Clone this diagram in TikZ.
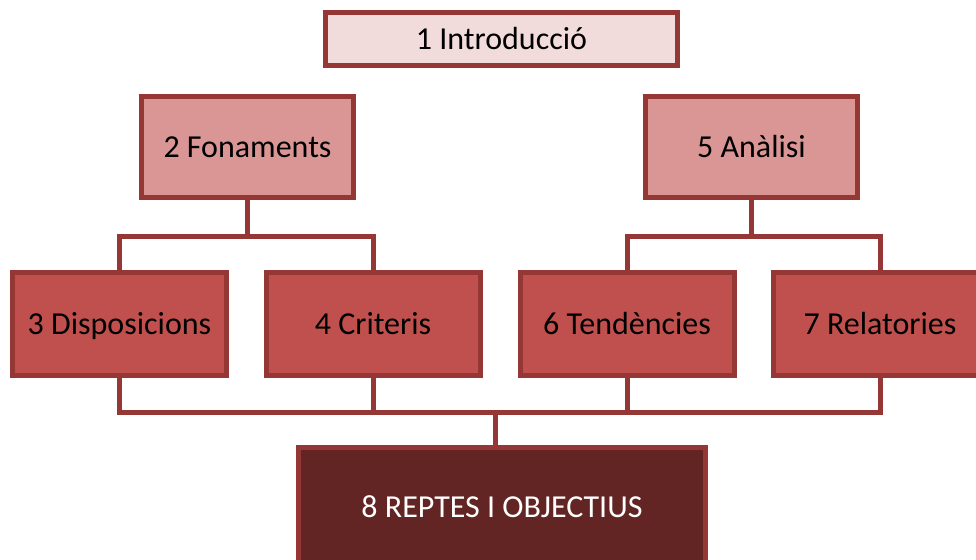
\documentclass[tikz,border=0pt]{standalone}
\usepackage{fontspec}
\setmainfont{Carlito}
\usetikzlibrary{backgrounds}
\definecolor{edgered}{HTML}{953735}
\definecolor{fillone}{HTML}{F2DCDB}
\definecolor{filltwo}{HTML}{D99694}
\definecolor{fillthree}{HTML}{C0504D}
\definecolor{fillfour}{HTML}{632523}
\tikzset{
  boxbase/.style={draw=edgered, line width=5pt, rectangle, inner sep=0pt, align=center,
    text height=20.6pt, text depth=0pt, font=\fontsize{32}{36}\selectfont},
  lvlone/.style={boxbase, fill=fillone, minimum width=352pt, minimum height=53pt},
  lvltwo/.style={boxbase, fill=filltwo, minimum width=212pt, minimum height=101pt},
  lvlthree/.style={boxbase, fill=fillthree, minimum width=214pt, minimum height=103pt},
  lvlfour/.style={boxbase, fill=fillfour, text=white, minimum width=407pt, minimum height=120pt},
  link/.style={draw=edgered, line width=5pt}
}
\begin{document}
\begin{tikzpicture}[x=1pt,y=-1pt]
\useasboundingbox (0,0) rectangle (976,559);
\clip (0,0) rectangle (976,559);
\node[lvlone] (n1) at (501.5,39) {1 Introducció};
\node[lvltwo] (n2) at (247.5,147) {2 Fonaments};
\node[lvltwo] (n5) at (751.5,147) {5 Anàlisi};
\node[lvlthree] (n3) at (119.5,324) {3 Disposicions};
\node[lvlthree] (n4) at (373,324) {4 Criteris};
\node[lvlthree] (n6) at (627,324) {6 Tendències};
\node[lvlthree] (n7) at (880,324) {7 Relatories};
\node[lvlfour] (n8) at (502,507) {8 REPTES I OBJECTIUS};
\coordinate (busA) at (247.5,236);
\coordinate (busB) at (751.5,236);
\coordinate (busC) at (495,412);
\begin{scope}[on background layer]
\fill[white] (0,0) rectangle (976,559);
\path[link] (n2.south) -- (busA);
\path[link] (n3.north) |- (busA) -| (n4.north);
\path[link] (n5.south) -- (busB);
\path[link] (n6.north) |- (busB) -| (n7.north);
\path[link] (n3.south) |- (busC);
\path[link] (n4.south) |- (busC);
\path[link] (n6.south) |- (busC);
\path[link] (n7.south) |- (busC);
\path[link] (busC) -- (busC |- n8.north);
\end{scope}
\end{tikzpicture}
\end{document}
